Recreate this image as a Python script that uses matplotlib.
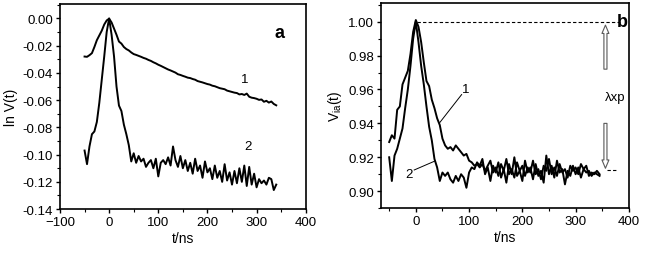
import matplotlib
matplotlib.use("Agg")
import matplotlib.pyplot as plt
from matplotlib.ticker import MultipleLocator

plt.rcParams['font.family'] = ['Liberation Sans', 'DejaVu Sans']
plt.rcParams['mathtext.fontset'] = 'custom'
plt.rcParams['mathtext.rm'] = 'Liberation Sans'
plt.rcParams['mathtext.it'] = 'Liberation Sans'

# панель a: ln V(t), шаг 5 нс
t_a = list(range(-50, 345, 5))
lnV1 = [-0.0280, -0.0282, -0.0270, -0.0255, -0.0210, -0.0160, -0.0125, -0.0090, -0.0045, -0.0015,
        -0.0002, -0.0030, -0.0075, -0.0120, -0.0170, -0.0185, -0.0210, -0.0225, -0.0235, -0.0250,
        -0.0262, -0.0268, -0.0275, -0.0282, -0.0290, -0.0296, -0.0305, -0.0312, -0.0322, -0.0330,
        -0.0340, -0.0348, -0.0357, -0.0366, -0.0375, -0.0382, -0.0390, -0.0398, -0.0410, -0.0415,
        -0.0422, -0.0428, -0.0435, -0.0438, -0.0445, -0.0450, -0.0460, -0.0465, -0.0470, -0.0476,
        -0.0482, -0.0486, -0.0494, -0.0498, -0.0505, -0.0512, -0.0516, -0.0520, -0.0530, -0.0535,
        -0.0540, -0.0545, -0.0548, -0.0558, -0.0555, -0.0562, -0.0552, -0.0575, -0.0582, -0.0585,
        -0.0590, -0.0598, -0.0595, -0.0612, -0.0605, -0.0618, -0.0610, -0.0628, -0.0638]
lnV2 = [-0.097, -0.107, -0.094, -0.085, -0.083, -0.076, -0.062, -0.045, -0.028, -0.010,
        -0.000, -0.012, -0.028, -0.050, -0.064, -0.068, -0.078, -0.085, -0.093, -0.105,
        -0.099, -0.106, -0.101, -0.105, -0.103, -0.109, -0.106, -0.104, -0.110, -0.103,
        -0.116, -0.106, -0.104, -0.107, -0.102, -0.108, -0.094, -0.104, -0.109, -0.101,
        -0.110, -0.104, -0.112, -0.106, -0.114, -0.103, -0.112, -0.108, -0.117, -0.105,
        -0.113, -0.110, -0.118, -0.108, -0.117, -0.112, -0.120, -0.107, -0.119, -0.113,
        -0.122, -0.112, -0.121, -0.110, -0.120, -0.108, -0.123, -0.109, -0.122, -0.114,
        -0.124, -0.118, -0.121, -0.119, -0.122, -0.117, -0.118, -0.126, -0.122]

# панель b: V_ia(t)
t_b = list(range(-50, 350, 5))
V1 = [0.929, 0.933, 0.931, 0.948, 0.950, 0.963, 0.967, 0.971, 0.981, 0.994,
      1.001, 0.997, 0.988, 0.976, 0.965, 0.962, 0.954, 0.949, 0.943, 0.939,
      0.931, 0.927, 0.925, 0.926, 0.924, 0.927, 0.925, 0.923, 0.921, 0.922,
      0.918, 0.917, 0.915, 0.916, 0.914, 0.916, 0.912, 0.915, 0.918, 0.911,
      0.914, 0.909, 0.916, 0.912, 0.919, 0.910, 0.913, 0.908, 0.917, 0.912,
      0.915, 0.909, 0.914, 0.911, 0.918, 0.910, 0.913, 0.907, 0.915, 0.912,
      0.919, 0.910, 0.914, 0.909, 0.916, 0.911, 0.913, 0.908, 0.915, 0.912,
      0.914, 0.910, 0.916, 0.913, 0.915, 0.909, 0.911, 0.910, 0.912, 0.910]
V2 = [0.920, 0.906, 0.921, 0.925, 0.931, 0.937, 0.949, 0.960, 0.974, 0.990,
      1.000, 0.988, 0.974, 0.963, 0.950, 0.938, 0.930, 0.919, 0.914, 0.906,
      0.911, 0.909, 0.911, 0.907, 0.905, 0.909, 0.906, 0.910, 0.908, 0.902,
      0.911, 0.914, 0.913, 0.917, 0.915, 0.919, 0.910, 0.914, 0.906, 0.915,
      0.911, 0.917, 0.908, 0.913, 0.905, 0.916, 0.910, 0.920, 0.909, 0.912,
      0.906, 0.918, 0.911, 0.914, 0.907, 0.916, 0.909, 0.912, 0.905, 0.921,
      0.910, 0.915, 0.908, 0.918, 0.911, 0.913, 0.904, 0.912, 0.909, 0.915,
      0.910, 0.914, 0.908, 0.913, 0.911, 0.912, 0.909, 0.911, 0.910, 0.909]

fig = plt.figure(figsize=(6.45, 2.55), dpi=100)
ax1 = fig.add_axes([0.093, 0.176, 0.381, 0.804])
ax2 = fig.add_axes([0.591, 0.180, 0.384, 0.804])

for ax in (ax1, ax2):
    for s in ax.spines.values():
        s.set_linewidth(1.2)
    ax.tick_params(which='major', direction='out', length=3, width=1, labelsize=9.5, pad=2)
    ax.tick_params(which='minor', direction='out', length=2, width=0.8)

# a
ax1.plot(t_a, lnV1, color='black', lw=1.4)
ax1.plot(t_a, lnV2, color='black', lw=1.4)
ax1.set_xlim(-100, 400)
ax1.set_ylim(-0.14, 0.0105)
ax1.xaxis.set_major_locator(MultipleLocator(100))
ax1.xaxis.set_minor_locator(MultipleLocator(50))
ax1.yaxis.set_major_locator(MultipleLocator(0.02))
ax1.yaxis.set_minor_locator(MultipleLocator(0.01))
ax1.yaxis.set_major_formatter(plt.FormatStrFormatter('%.2f'))
ax1.set_xlabel('t/ns', fontsize=10, labelpad=2)
ax1.set_ylabel('ln V(t)', fontsize=10, labelpad=3)
ax1.text(276, -0.0446, '1', fontsize=9.5, ha='center', va='center')
ax1.text(283, -0.0935, '2', fontsize=9.5, ha='center', va='center')
ax1.text(347, -0.0103, 'a', fontsize=13, fontweight='bold', ha='center', va='center')

# b
ax2.plot(t_b, V1, color='black', lw=1.4)
ax2.plot(t_b, V2, color='black', lw=1.4)
ax2.set_xlim(-65, 400)
ax2.set_ylim(0.89, 1.011)
ax2.xaxis.set_major_locator(MultipleLocator(100))
ax2.xaxis.set_minor_locator(MultipleLocator(50))
ax2.yaxis.set_major_locator(MultipleLocator(0.02))
ax2.yaxis.set_minor_locator(MultipleLocator(0.01))
ax2.yaxis.set_major_formatter(plt.FormatStrFormatter('%.2f'))
ax2.set_xlabel('t/ns', fontsize=10, labelpad=2)
ax2.set_ylabel(r'V$_{\mathregular{ia}}$(t)', fontsize=10, labelpad=3)

ax2.plot([2, 383], [1.0, 1.0], color='black', lw=0.8, ls=(0, (3, 2)))
ax2.plot([358, 376], [0.9124, 0.9124], color='black', lw=0.8, ls=(0, (3, 2)))
ax2.text(387, 1.0, 'b', fontsize=13, fontweight='bold', ha='center', va='center')

arrow = dict(arrowstyle='simple,head_width=0.5,head_length=0.6,tail_width=0.22',
             fc='white', ec='0.35', lw=0.8, shrinkA=0, shrinkB=0)
ax2.annotate('', xy=(356, 0.998), xytext=(356, 0.972), arrowprops=arrow)
ax2.annotate('', xy=(356, 0.9135), xytext=(356, 0.940), arrowprops=arrow)
ax2.text(375, 0.9555, 'λxp', fontsize=9.5, ha='center', va='center')

ax2.plot([86, 45], [0.9570, 0.9405], color='black', lw=0.7)
ax2.text(93, 0.9604, '1', fontsize=9.5, ha='center', va='center')
ax2.plot([-3, 36], [0.9125, 0.9178], color='black', lw=0.7)
ax2.text(-12, 0.9100, '2', fontsize=9.5, ha='center', va='center')

fig.savefig('out.png', dpi=100)
